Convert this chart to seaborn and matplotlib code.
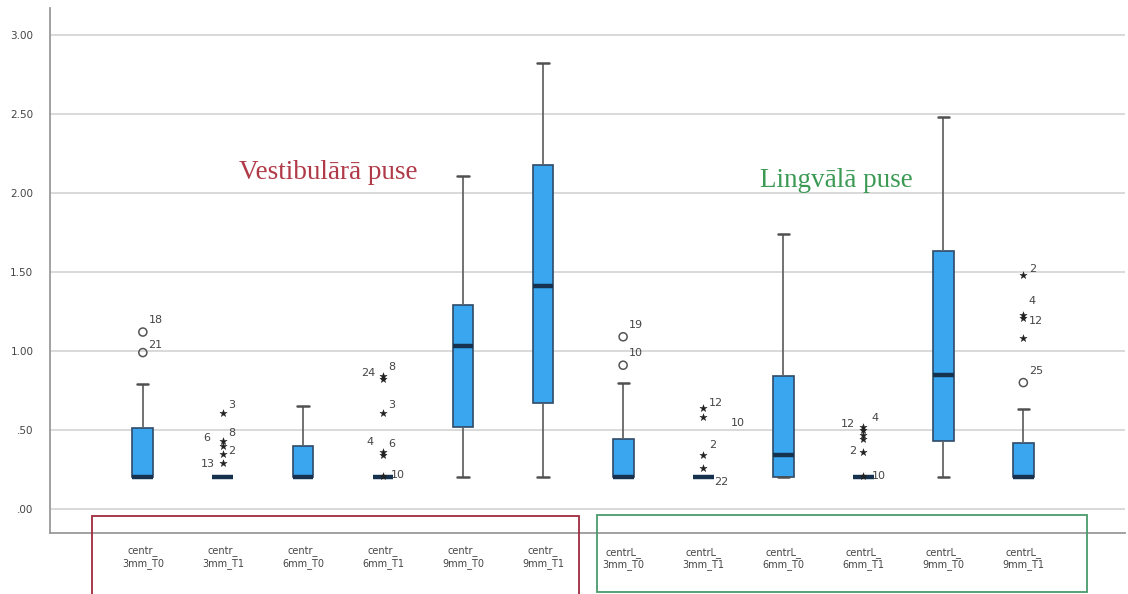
import numpy as np
import pandas as pd
import matplotlib
matplotlib.use("Agg")
import matplotlib.pyplot as plt
from matplotlib.patches import Rectangle
import seaborn as sns

# ---------------- data ----------------
categories = ["centr_\n3mm_T0", "centr_\n3mm_T1", "centr_\n6mm_T0", "centr_\n6mm_T1",
              "centr_\n9mm_T0", "centr_\n9mm_T1",
              "centrL_\n3mm_T0", "centrL_\n3mm_T1", "centrL_\n6mm_T0", "centrL_\n6mm_T1",
              "centrL_\n9mm_T0", "centrL_\n9mm_T1"]
whisk_low = [0.20, 0.20, 0.20, 0.20, 0.20, 0.20, 0.20, 0.20, 0.20, 0.20, 0.20, 0.20]
q1        = [0.20, 0.20, 0.20, 0.20, 0.52, 0.67, 0.20, 0.20, 0.20, 0.20, 0.43, 0.20]
median    = [0.20, 0.20, 0.20, 0.20, 1.03, 1.41, 0.20, 0.20, 0.34, 0.20, 0.85, 0.20]
q3        = [0.51, 0.20, 0.40, 0.20, 1.29, 2.18, 0.44, 0.20, 0.84, 0.20, 1.63, 0.42]
whisk_high= [0.79, 0.20, 0.65, 0.20, 2.11, 2.82, 0.80, 0.20, 1.74, 0.20, 2.48, 0.63]

# outliers: (category index, value, case label)
mild_outliers = [(0, 0.99, "21"), (0, 1.12, "18"),
                 (6, 0.91, "10"), (6, 1.09, "19"),
                 (11, 0.80, "25")]
extreme_outliers = [(1, 0.61, "3"), (1, 0.43, "8"), (1, 0.40, "6"), (1, 0.35, "2"), (1, 0.29, "13"),
                    (3, 0.84, "8"), (3, 0.82, "24"), (3, 0.61, "3"), (3, 0.36, "6"), (3, 0.34, "4"),
                    (3, 0.21, "10"),
                    (7, 0.64, "12"), (7, 0.58, "10"), (7, 0.34, "2"), (7, 0.26, "22"),
                    (9, 0.52, "4"), (9, 0.50, "12"), (9, 0.47, ""), (9, 0.44, ""), (9, 0.36, "2"),
                    (9, 0.21, "10"),
                    (11, 1.48, "2"), (11, 1.23, "4"), (11, 1.21, "12"), (11, 1.08, "")]

yticks = [0.0, 0.5, 1.0, 1.5, 2.0, 2.5, 3.0]
ytick_labels = [".00", ".50", "1.00", "1.50", "2.00", "2.50", "3.00"]
group_titles = ["Vestibulārā puse", "Lingvālā puse"]

# label offsets in points (dx, dy) for individual outlier labels (style only)
label_offsets = {
    (0, "21"): (4, 2), (0, "18"): (4, 5),
    (6, "10"): (4, 5), (6, "19"): (4, 5),
    (11, "25"): (4, 5),
    (1, "3"): (4, 2), (1, "8"): (4, 2), (1, "6"): (-14, 2), (1, "2"): (4, -2), (1, "13"): (-16, -4),
    (3, "8"): (4, 3), (3, "24"): (-16, 1), (3, "3"): (4, 2), (3, "6"): (4, 2), (3, "4"): (-12, 6),
    (3, "10"): (6, -3),
    (7, "12"): (4, 0), (7, "10"): (20, -8), (7, "2"): (4, 4), (7, "22"): (8, -14),
    (9, "4"): (6, 3), (9, "12"): (-16, 1), (9, "2"): (-10, -3), (9, "10"): (6, -4),
    (11, "2"): (4, 1), (11, "4"): (4, 6), (11, "12"): (4, -6),
}

# ---------------- build long form data for seaborn ----------------
rows = []
for i, c in enumerate(categories):
    for v in (whisk_low[i], q1[i], median[i], q3[i], whisk_high[i]):
        rows.append({"var": c, "value": v})
df = pd.DataFrame(rows)

sns.set_style("white")
plt.rcParams["font.family"] = ["DejaVu Sans"]

fig = plt.figure(figsize=(11.28, 5.94), dpi=100)
ax = fig.add_axes([50 / 1128, 1 - 533 / 594, (1125 - 50) / 1128, (533 - 8) / 594])

# gridlines
for y in yticks:
    ax.axhline(y, color="#cfcfcf", lw=1.1, zorder=0)

CAP_COLOR = "#505050"
sns.boxplot(data=df, x="var", y="value", order=categories, whis=(0, 100),
            showfliers=False, width=0.26, color="#3aa6f0", linecolor="#3d4f63",
            linewidth=1.2, saturation=1, ax=ax,
            boxprops=dict(edgecolor="#2f4a66", linewidth=1.2),
            medianprops=dict(color="#16324f", linewidth=3.2),
            whiskerprops=dict(color="#666666", linewidth=1.3),
            capprops=dict(color=CAP_COLOR, linewidth=1.8))

# shorten the whisker caps like the SPSS style
for ln in ax.lines:
    if matplotlib.colors.to_hex(ln.get_color()) == CAP_COLOR:
        xd = np.asarray(ln.get_xdata(), dtype=float)
        if xd.size == 2 and xd[0] != xd[1]:
            c = xd.mean()
            ln.set_xdata([c - 0.07, c + 0.07])

mild_df = pd.DataFrame(mild_outliers, columns=["idx", "value", "label"])
ext_df = pd.DataFrame(extreme_outliers, columns=["idx", "value", "label"])

sns.scatterplot(x=mild_df["idx"], y=mild_df["value"], marker="o", s=34,
                facecolor="none", edgecolor="#555555", linewidth=1.1, ax=ax, zorder=5)
sns.scatterplot(x=ext_df["idx"], y=ext_df["value"], marker="*", s=30,
                color="#222222", edgecolor="#222222", linewidth=0.3, ax=ax, zorder=5)

for dfo in (mild_df, ext_df):
    for _, r in dfo.iterrows():
        if not r["label"]:
            continue
        off = label_offsets.get((int(r["idx"]), r["label"]), (4, 3))
        ax.annotate(r["label"], (r["idx"], r["value"]), xytext=off,
                    textcoords="offset points", fontsize=8, color="#444444",
                    va="bottom", ha="left", zorder=6)

ax.set_xlim(-1.16, 12.27)
ax.set_ylim(-0.152, 3.171)
ax.set_yticks(yticks)
ax.set_yticklabels(ytick_labels)
ax.set_xlabel("")
ax.set_ylabel("")
ax.tick_params(axis="y", length=0, pad=12, labelsize=7.5, labelcolor="#444444")
ax.tick_params(axis="x", length=0, pad=10, labelsize=7, labelcolor="#444444")
for lab in ax.get_xticklabels():
    lab.set_linespacing(1.1)

for side in ("top", "right"):
    ax.spines[side].set_visible(False)
for side in ("left", "bottom"):
    ax.spines[side].set_color("#9a9a9a")
    ax.spines[side].set_linewidth(1.3)

# group titles
ax.text(2.31, 2.13, group_titles[0], family=["Liberation Serif"], fontsize=19.5,
        color="#b03a48", ha="center", va="center")
ax.text(8.66, 2.08, group_titles[1], family=["Liberation Serif"], fontsize=19.5,
        color="#3c9a55", ha="center", va="center")

# frames round the two groups of labels
W, H = 1128, 594
fig.patches.append(Rectangle((92 / W, 1 - 600 / H), (579 - 92) / W, (600 - 516) / H,
                             transform=fig.transFigure, fill=False,
                             edgecolor="#a02a3c", linewidth=1.3, zorder=10))
fig.patches.append(Rectangle((597 / W, 1 - 592 / H), (1087 - 597) / W, (592 - 515) / H,
                             transform=fig.transFigure, fill=False,
                             edgecolor="#4a9a6a", linewidth=1.3, zorder=10))

fig.savefig("out.png", dpi=100)
